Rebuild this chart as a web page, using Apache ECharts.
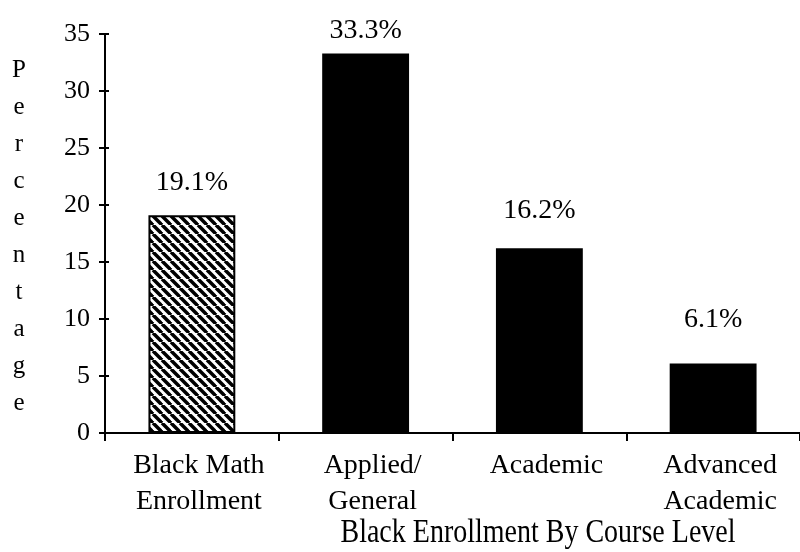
<!DOCTYPE html>
<html>
<head>
<meta charset="utf-8">
<script src="https://cdn.jsdelivr.net/npm/echarts@6/dist/echarts.min.js"></script>
<style>
  html, body { margin: 0; padding: 0; background: #fff; }
  #main { width: 800px; height: 552px; }
</style>
</head>
<body>
<div id="main"></div>
<script>
// data
var categories = ['Black Math\nEnrollment', 'Applied/\nGeneral', 'Academic', 'Advanced\nAcademic'];
var values = [19.1, 33.3, 16.2, 6.1];
var yMin = 0, yMax = 35, yStep = 5;
var yName = 'Percentage';
var xTitle = 'Black Enrollment By Course Level';

var serif = '"Liberation Serif", "DejaVu Serif", serif';
// the scanned labels do not sit at an even height above the bars
var labelGap = [19, 9, 24, 30];

// diagonal hatch for the first bar
function hatch() {
  var s = 9;
  var c = document.createElement('canvas');
  c.width = s; c.height = s;
  var ctx = c.getContext('2d');
  ctx.fillStyle = '#fff';
  ctx.fillRect(0, 0, s, s);
  ctx.strokeStyle = '#000';
  ctx.lineWidth = 3.5;
  for (var k = -1; k <= 1; k++) {
    ctx.beginPath();
    ctx.moveTo(k * s, 0);
    ctx.lineTo(k * s + s, s);
    ctx.stroke();
  }
  return c;
}

var barData = values.map(function (v, i) {
  var item = { value: v, label: { distance: labelGap[i] } };
  if (i === 0) {
    item.itemStyle = { color: { image: hatch(), repeat: 'repeat' }, borderColor: '#000', borderWidth: 2 };
  } else {
    item.itemStyle = { color: '#000' };
  }
  return item;
});

var myChart = echarts.init(document.getElementById('main'));
var option = {
  backgroundColor: '#fff',
  animation: false,
  grid: { left: 105, right: 0, top: 34, bottom: 119 },
  xAxis: {
    type: 'category',
    data: categories,
    boundaryGap: true,
    axisLine: { lineStyle: { color: '#000', width: 2 } },
    axisTick: { show: true, length: 8, lineStyle: { color: '#000', width: 2 } },
    axisLabel: {
      color: '#000',
      fontFamily: serif,
      fontSize: 28,
      lineHeight: 36,
      margin: 15,
      padding: [0, 0, 0, 14]
    }
  },
  yAxis: [
    {
      type: 'value',
      min: yMin, max: yMax, interval: yStep,
      axisLine: { show: true, lineStyle: { color: '#000', width: 2 } },
      axisTick: { show: true, length: 6, lineStyle: { color: '#000', width: 2 } },
      splitLine: { show: false },
      axisLabel: { color: '#000', fontFamily: serif, fontSize: 26, margin: 15 }
    },
    {
      // inner half of the crossing ticks
      type: 'value',
      min: yMin, max: yMax, interval: yStep,
      position: 'left',
      axisLine: { show: false },
      axisTick: { show: true, inside: true, length: 4, lineStyle: { color: '#000', width: 2 } },
      splitLine: { show: false },
      axisLabel: { show: false }
    }
  ],
  graphic: [
    {
      type: 'text',
      x: 19, y: 237,
      style: {
        text: yName.split('').join('\n'),
        font: '25px ' + serif,
        fill: '#000',
        lineHeight: 37,
        align: 'center',
        verticalAlign: 'middle'
      }
    },
    {
      type: 'text',
      x: 538, y: 533,
      scaleY: 1.2,
      style: {
        text: xTitle,
        font: '28px ' + serif,
        fill: '#000',
        align: 'center',
        verticalAlign: 'middle'
      }
    }
  ],
  series: [
    {
      type: 'bar',
      yAxisIndex: 0,
      barWidth: '50%',
      data: barData,
      label: {
        show: true,
        position: 'top',
        color: '#000',
        fontFamily: serif,
        fontSize: 28,
        formatter: function (p) { return p.value.toFixed(1) + '%'; }
      }
    }
  ]
};
myChart.setOption(option, true);
</script>
</body>
</html>
